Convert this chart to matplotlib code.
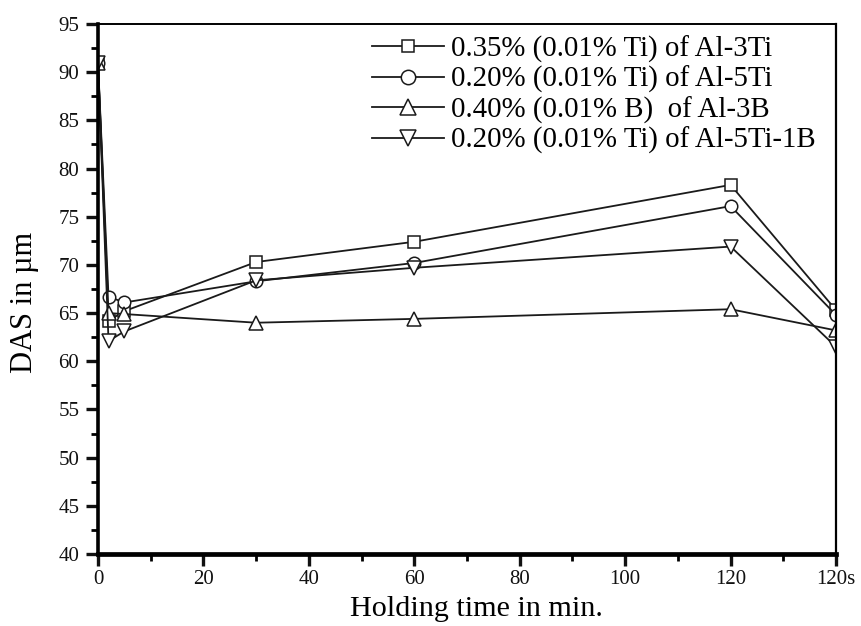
import matplotlib
matplotlib.use("Agg")
import matplotlib.pyplot as plt
from matplotlib.ticker import MultipleLocator, FixedLocator

plt.rcParams['font.family'] = ['Liberation Serif', 'DejaVu Serif']

time = [0, 2, 5, 30, 60, 120, 140]
tick_pos = [0, 20, 40, 60, 80, 100, 120, 140]
tick_labels = ['0', '20', '40', '60', '80', '100', '120', '120s']

al3ti = [91.0, 64.2, 65.2, 70.3, 72.4, 78.3, 65.3]
al5ti = [91.0, 66.7, 66.1, 68.3, 70.2, 76.1, 64.8]
al3b = [91.0, 65.0, 64.9, 64.0, 64.4, 65.4, 63.2]
al5ti1b = [91.0, 62.1, 63.1, 68.4, 69.7, 71.9, 61.5]

labels = ['0.35% (0.01% Ti) of Al-3Ti',
          '0.20% (0.01% Ti) of Al-5Ti',
          '0.40% (0.01% B)  of Al-3B',
          '0.20% (0.01% Ti) of Al-5Ti-1B']
markers = ['s', 'o', '^', 'v']
sizes = [8, 9, 10, 10]

fig = plt.figure(figsize=(8.61, 6.26), dpi=100)
ax = fig.add_axes([0.1138, 0.1150, 0.8572, 0.8467])

for ys, lab, m, ms in zip([al3ti, al5ti, al3b, al5ti1b], labels, markers, sizes):
    ax.plot(time, ys, color='#1a1a1a', lw=1.3, marker=m, ms=ms,
            mfc='white', mec='#1a1a1a', mew=1.1, label=lab)

ax.set_xlim(0, 140)
ax.set_ylim(40, 95)
ax.xaxis.set_major_locator(FixedLocator(tick_pos))
ax.set_xticklabels(tick_labels)
ax.xaxis.set_minor_locator(MultipleLocator(10))
ax.yaxis.set_major_locator(MultipleLocator(5))
ax.yaxis.set_minor_locator(MultipleLocator(2.5))

ax.tick_params(axis='both', which='major', direction='out', length=8.5, width=2.4,
               labelsize=15, pad=5, colors='#111111')
ax.tick_params(axis='both', which='minor', direction='out', length=5, width=2)
ax.tick_params(axis='x', which='major', pad=3)
ax.tick_params(top=False, right=False, which='both')

ax.spines['left'].set_linewidth(2.6)
ax.spines['bottom'].set_linewidth(3.4)
ax.spines['top'].set_linewidth(1.4)
ax.spines['right'].set_linewidth(1.6)

ax.set_xlabel('Holding time in min.', fontsize=21.7, labelpad=5)
ax.xaxis.label.set_x(0.513)
ax.set_ylabel('DAS in µm', fontsize=22, labelpad=14)
ax.yaxis.label.set_y(0.475)

leg = ax.legend(loc='upper right', frameon=False, fontsize=20.8,
                handlelength=2.5, handletextpad=0.25, labelspacing=0.11,
                borderaxespad=0.0, bbox_to_anchor=(0.988, 1.0), markerscale=1.15)

fig.savefig('out.png', dpi=100)
